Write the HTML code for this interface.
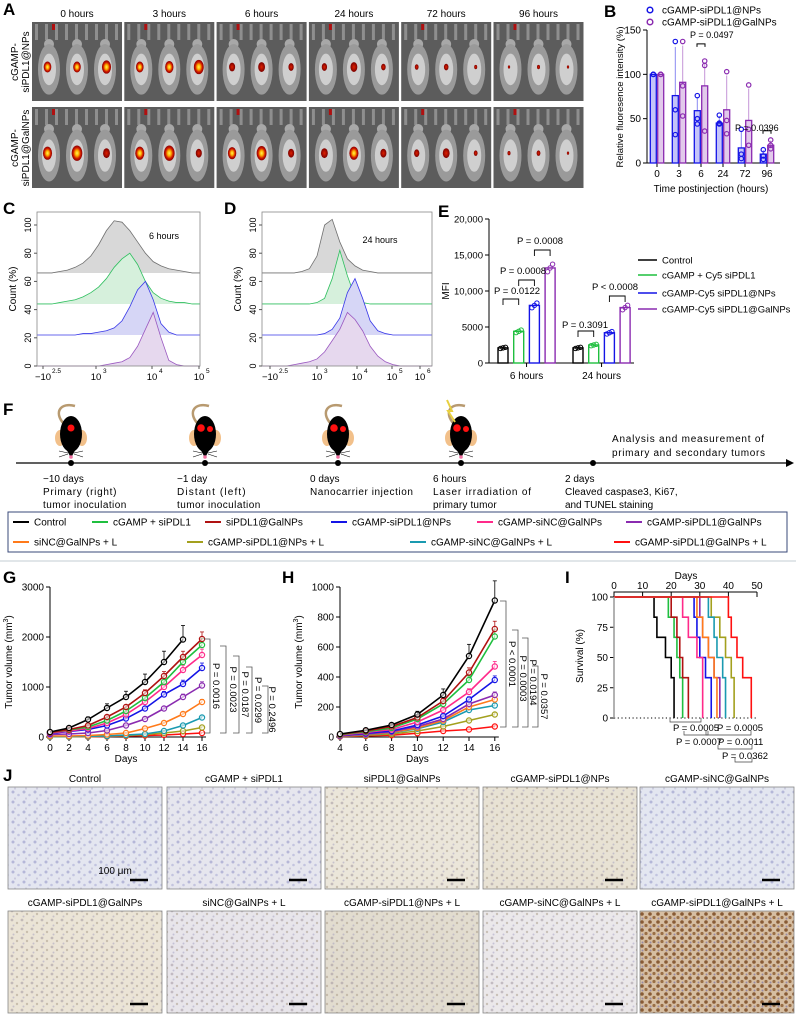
<!DOCTYPE html>
<html><head><meta charset="utf-8"><style>
html,body{margin:0;padding:0;background:#fff;}
svg{display:block;font-family:"Liberation Sans",Arial,sans-serif;}
</style></head>
<body>
<svg id="fig" width="796" height="1018" viewBox="0 0 796 1018" xmlns="http://www.w3.org/2000/svg">
<defs>
<pattern id="cellsBlue" width="11" height="10" patternUnits="userSpaceOnUse">
<circle cx="2" cy="2" r="1.5" fill="#8d8fc4" opacity="0.55"/><circle cx="7.5" cy="5" r="1.3" fill="#9a9ccc" opacity="0.45"/><circle cx="4" cy="8.5" r="1.1" fill="#a6a0c0" opacity="0.4"/></pattern>
<pattern id="cellsTan" width="10" height="9" patternUnits="userSpaceOnUse">
<circle cx="2" cy="2" r="1.4" fill="#9c8f9a" opacity="0.5"/><circle cx="7" cy="5" r="1.2" fill="#a89884" opacity="0.5"/><circle cx="3.5" cy="7.5" r="1" fill="#8e8cb8" opacity="0.4"/></pattern>
<pattern id="cellsBrown" width="8" height="8" patternUnits="userSpaceOnUse">
<circle cx="2" cy="2" r="1.8" fill="#7a4a22" opacity="0.85"/><circle cx="6" cy="5.5" r="1.6" fill="#8a5a2e" opacity="0.8"/><circle cx="2.5" cy="6.5" r="1" fill="#6f6aa8" opacity="0.6"/></pattern>
<radialGradient id="hot"><stop offset="0" stop-color="#fff45a"/><stop offset="0.35" stop-color="#ffb000"/><stop offset="0.7" stop-color="#d01800"/><stop offset="1" stop-color="#8a0000"/></radialGradient>
<radialGradient id="warm"><stop offset="0" stop-color="#e02000"/><stop offset="1" stop-color="#7a0000"/></radialGradient>
</defs>
</svg>
<script>
// ===== DATA =====
const bTimes=["0","3","6","24","72","96"];
const bNPs=[100,76,59,45,17,10];
const bGal=[100,91,87,60,48,20];
const bNPsPts=[[100,100,100],[137,60,32],[76,50,44],[54,44,45],[38,10,5],[15,8,4]];
const bGalPts=[[100,100,100],[137,87,53],[115,110,36],[103,48,33],[88,38,20],[26,20,16]];
const cGray=[0,0,1,2,4,7,12,20,30,37,36,30,22,14,8,5,3,2,1,0,0];
const cGreen=[0,0,1,2,3,5,8,12,18,26,32,36,28,16,8,4,2,1,1,0,0];
const cBlue=[0,0,0,0,0,1,1,2,3,5,10,20,32,38,25,8,2,0,0,0,0];
const cPurple=[0,0,0,0,0,0,0,0,1,2,3,6,14,26,38,20,4,1,0,0,0];
const dGray=[0,0,0,1,3,12,34,38,22,10,5,2,1,0,0,0,0,0,0,0,0];
const dGreen=[0,0,0,0,0,1,4,18,38,20,5,1,0,0,0,0,0,0,0,0,0];
const dBlue=[0,0,0,0,0,0,1,4,12,30,40,26,10,3,1,0,0,0,0,0,0];
const dPurple=[0,0,1,2,3,5,10,18,26,38,33,25,14,7,3,1,0,0,0,0,0];
const eGroups=["6 hours","24 hours"];
const eSeries=["Control","cGAMP + Cy5 siPDL1","cGAMP-Cy5 siPDL1@NPs","cGAMP-Cy5 siPDL1@GalNPs"];
const e6h=[2100,4400,8000,13200];
const e24h=[2100,2500,4200,7700];
const eTicks=[0,5000,10000,15000,20000];
const eTickLabels=["0","5000","10,000","15,000","20,000"];
const groupNames=["Control","cGAMP + siPDL1","siPDL1@GalNPs","cGAMP-siPDL1@NPs","cGAMP-siNC@GalNPs","cGAMP-siPDL1@GalNPs","siNC@GalNPs + L","cGAMP-siPDL1@NPs + L","cGAMP-siNC@GalNPs + L","cGAMP-siPDL1@GalNPs + L"];
const gDays=[0,2,4,6,8,10,12,14,16];
const gControl=[100,180,350,580,800,1100,1500,1950];
const gCgSi=[90,140,200,330,520,780,1100,1500,1840];
const gSiGal=[90,150,230,400,600,880,1220,1600,1960];
const gNPs=[70,110,150,230,370,570,850,1060,1380];
const gSiNC=[80,120,170,280,450,700,1000,1340,1640];
const gGal=[50,60,80,130,230,360,570,800,1030];
const gSiNCL=[20,20,30,50,80,170,280,460,700];
const gNPsL=[5,5,10,15,30,50,80,120,190];
const gCgNCL=[10,10,15,20,40,60,120,230,390];
const gGalL=[5,5,5,10,20,30,40,60,80];
const hDays=[4,6,8,10,12,14,16];
const hControl=[20,45,80,150,280,540,910];
const hCgSi=[15,35,60,120,220,380,670];
const hSiGal=[18,40,70,130,240,430,720];
const hNPs=[10,25,40,80,140,250,380];
const hSiNC=[12,30,50,100,180,300,470];
const hGal=[8,20,35,70,120,220,280];
const hSiNCL=[8,18,30,60,110,200,250];
const hNPsL=[5,12,20,40,70,110,150];
const hCgNCL=[6,15,28,55,100,180,210];
const hGalL=[3,8,12,25,40,50,70];
const iControl=[14,15,18,20,21,21];
const iCgSi=[19,21,22,23,24,24];
const iSiGal=[20,22,23,24,26,26];
const iNPs=[28,29,30,32,34,34];
const iSiNC=[24,26,29,31,31,31];
const iGal=[30,31,33,35,37,37];
const iSiNCL=[29,31,33,35,36,36];
const iNPsL=[34,37,39,41,42,42];
const iCgNCL=[33,35,36,38,39,39];
const iGalL=[40,41,43,45,48,48];

const COLORS=["#000000","#1fbf3f","#b01212","#1414e6","#ff2a8a","#8a2bb0","#ff7a1a","#a3a01e","#1a9ab0","#ff1010"];

// ===== HELPERS =====
const NS='http://www.w3.org/2000/svg';
const svg=document.getElementById('fig');
function mk(tag,a,parent){const e=document.createElementNS(NS,tag);for(const k in a)e.setAttribute(k,a[k]);(parent||svg).appendChild(e);return e;}
function txt(x,y,s,size,anchor,parent,extra){const e=mk('text',Object.assign({x:x,y:y,'font-size':size,'text-anchor':anchor||'start',fill:'#000'},extra||{}),parent);e.textContent=s;return e;}
function grp(parent){return mk('g',{},parent);}

// ===== PANEL A =====
const gA=grp();


let t=txt(3,15,'A',17,'start',gA,{'font-weight':'bold'});


const aHours=["0 hours","3 hours","6 hours","24 hours","72 hours","96 hours"];
const spotsTop=[[1,1,1.2],[1,1.1,1.3],[0.8,0.9,0.7],[0.7,0.9,0.6],[0.5,0.6,0.4],[0.3,0.4,0.3]];
const spotsBot=[[1.2,1.4,0.9],[1.2,1.4,0.8],[1.1,1.3,0.8],[0.9,1.2,0.8],[0.7,0.9,0.5],[0.4,0.5,0.3]];
for(let c=0;c<6;c++){
  const x=32+c*92.3;
  t=txt(x+45,17,aHours[c],10,'middle',gA);
  
  
  for(let r=0;r<2;r++){
    const y=r?107:22, h=r?81:79;
    const tile=grp(gA);
    
    
    mk('rect',{x:x,y:y,width:90,height:h,fill:'#5c5c5c'},tile);
    for(let k=0;k<9;k++) mk('rect',{x:x+3+k*10,y:y+2,width:3,height:16,fill:'#8e8e8e'},tile);
    const sp=r?spotsBot[c]:spotsTop[c];
    for(let m=0;m<3;m++){
      const cx=x+17+m*28;
      mk('ellipse',{cx:cx,cy:y+22,rx:5,ry:5,fill:'#a8a8a8'},tile);
      mk('ellipse',{cx:cx,cy:y+h*0.6,rx:11,ry:h*0.32,fill:'#9a9a9a'},tile);
      mk('ellipse',{cx:cx,cy:y+h*0.6,rx:7,ry:h*0.2,fill:'#cfcfcf'},tile);
      const s=sp[m];
      mk('ellipse',{cx:cx+(m-1)*1.5,cy:y+h*0.57,rx:3.8*s,ry:5.5*s,fill:(s>0.95?'url(#hot)':'url(#warm)')},tile);
    }
    mk('rect',{x:x+20,y:y+2,width:3,height:6,fill:'#b01010'},tile);
  }
}
t=txt(0,0,'cGAMP-',10,'middle',gA,{transform:'translate(18,62) rotate(-90)'});


t=txt(0,0,'siPDL1@NPs',10,'middle',gA,{transform:'translate(29,62) rotate(-90)'});


t=txt(0,0,'cGAMP-',10,'middle',gA,{transform:'translate(18,148) rotate(-90)'});


t=txt(0,0,'siPDL1@GalNPs',10,'middle',gA,{transform:'translate(29,148) rotate(-90)'});



// ===== PANEL B =====
const gB=grp();


t=txt(604,17,'B',17,'start',gB,{'font-weight':'bold'});


const bY=v=>163-v/150*133;
const bX=i=>657+i*22;
let ax=mk('path',{d:'M647,30 V163 H780',fill:'none',stroke:'#000','stroke-width':1},gB);


[0,50,100,150].forEach(v=>{
  mk('line',{x1:643,x2:647,y1:bY(v),y2:bY(v),stroke:'#000'},gB);
  const l=txt(641,bY(v)+3.5,String(v),10,'end',gB);
  
  
});
bTimes.forEach((s,i)=>{
  mk('line',{x1:bX(i),x2:bX(i),y1:163,y2:167,stroke:'#000'},gB);
  const l=txt(bX(i),177,s,10,'middle',gB);
  
  
  [[bNPs,bNPsPts,'#1414e6',-3.7],[bGal,bGalPts,'#8a2bb0',3.7]].forEach(([vals,pts,col,off])=>{
    const v=vals[i];
    const b=mk('rect',{x:bX(i)+off-3,y:bY(v),width:6,height:163-bY(v),fill:col,'fill-opacity':0.25,stroke:col,'stroke-width':1.3},gB);
    
    
    const mx=Math.max(...pts[i]);
    mk('line',{x1:bX(i)+off,x2:bX(i)+off,y1:bY(v),y2:bY(Math.min(150,v+(mx-v)*0.9)),stroke:col,'stroke-opacity':0.5},gB);
    pts[i].forEach(p=>{
      const c=mk('circle',{cx:bX(i)+off,cy:bY(p),r:2.2,fill:'none',stroke:col,'stroke-width':1.2},gB);
      
      
    });
  });
});
t=txt(0,0,'Relative fluoresence intensity (%)',9.5,'middle',gB,{transform:'translate(623,97) rotate(-90)'});


t=txt(711,192,'Time postinjection (hours)',10,'middle',gB);


[['cGAMP-siPDL1@NPs','#1414e6',10],['cGAMP-siPDL1@GalNPs','#8a2bb0',22]].forEach(([s,c,y])=>{
  const e=mk('circle',{cx:650,cy:y,r:2.8,fill:'none',stroke:c,'stroke-width':1.5},gB);
  
  
  const l=txt(662,y+3.5,s,10,'start',gB);
  
  
});
mk('path',{d:`M${bX(2)-4},${bY(131)} v-3 h8 v3`,fill:'none',stroke:'#000'},gB);
t=txt(690,38,'P = 0.0497',9,'start',gB);


mk('path',{d:`M${bX(5)-4},${bY(33)} v-3 h8 v3`,fill:'none',stroke:'#000'},gB);
t=txt(735,131,'P = 0.0396',9,'start',gB);



// ===== PANELS C, D =====
function hist(panel,left,right,xOf,sets,ticks,tlabels,sup,label,lx,ly,letter,letterX){
  const g=grp();
  
  
  const L=txt(letterX,214,letter,17,'start',g,{'font-weight':'bold'});
  
  
  const yOf=v=>366-v*1.41;
  const bases=[66,44,22,0];
  const cols=['#707070','#2fbf5f','#3838e8','#9a58c0'];
  const fills=['#d8d8d8','#d6f0dc','#d6d6f6','#e6d8ee'];
  sets.forEach((arr,si)=>{
    let d=`M${left},${yOf(bases[si])}`;
    arr.forEach((v,i)=>{d+=` L${xOf(i)},${yOf(bases[si]+v)}`;});
    d+=` L${right},${yOf(bases[si])}`;
    const f=mk('path',{d:d+' Z',fill:fills[si],stroke:'none'},g);
    
    
    const ln=mk('path',{d:d,fill:'none',stroke:cols[si],'stroke-width':0.8},g);
    
    
  });
  const box=mk('rect',{x:left,y:212,width:right-left,height:154,fill:'none',stroke:'#888','stroke-width':0.8},g);
  
  
  [0,20,40,60,80,100].forEach(v=>{
    mk('line',{x1:left-3,x2:left,y1:yOf(v),y2:yOf(v),stroke:'#555'},g);
    const l=txt(0,0,String(v),9,'middle',g,{transform:`translate(${left-6},${yOf(v)}) rotate(-90)`});
    
    
  });
  ticks.forEach((x,i)=>{
    mk('line',{x1:x,x2:x,y1:366,y2:369,stroke:'#555'},g);
    const l=txt(x,380,tlabels[i],9.5,'middle',g);
    
    
    const s=txt(x+(i===0?9:7),373,sup[i],6.5,'start',g);
    
    
  });
  const yl=txt(0,0,'Count  (%)',10,'middle',g,{transform:`translate(${left-21},289) rotate(-90)`});
  
  
  const lb=txt(lx,ly,label,9,'middle',g);
  
  
}
hist('c',37,200,i=>96+(2.0+i*0.15-3)*52,[cGray,cGreen,cBlue,cPurple],[43,96,152,199],['\u221210','10','10','10'],['2.5','3','4','5'],'6 hours',164,239,'C',3);
hist('d',262,432,i=>317+(2.0+i*0.2-3)*38,[dGray,dGreen,dBlue,dPurple],[270,317,357,392,420],['\u221210','10','10','10','10'],['2.5','3','4','5','6'],'24 hours',380,243,'D',224);

// ===== PANEL E =====
const gE=grp();


t=txt(438,217,'E',17,'start',gE,{'font-weight':'bold'});


const eY=v=>363-v/20000*144;
const eX=(g,s)=>[503,578][g]+s*15.7;
ax=mk('path',{d:'M489,219 V363 H634',fill:'none',stroke:'#000'},gE);


eTicks.forEach((v,i)=>{
  mk('line',{x1:485,x2:489,y1:eY(v),y2:eY(v),stroke:'#000'},gE);
  const l=txt(483,eY(v)+3.5,eTickLabels[i],9.5,'end',gE);
  
  
});
t=txt(0,0,'MFI',10,'middle',gE,{transform:'translate(449,291) rotate(-90)'});


const eColors=['#000','#1fbf3f','#1414e6','#8a2bb0'];
[e6h,e24h].forEach((vals,g)=>{
  const l=txt((eX(g,0)+eX(g,3))/2,379,eGroups[g],10,'middle',gE);
  
  
  mk('line',{x1:(eX(g,1)+eX(g,2))/2,x2:(eX(g,1)+eX(g,2))/2,y1:363,y2:367,stroke:'#000'},gE);
  vals.forEach((v,s)=>{
    const b=mk('rect',{x:eX(g,s)-5,y:eY(v),width:10,height:363-eY(v),fill:'none',stroke:eColors[s],'stroke-width':1.4},gE);
    
    
    [-2.5,0,2.5].forEach((o,k)=>{
      const c=mk('circle',{cx:eX(g,s)+o,cy:eY(v*(1+(k-1)*0.04)),r:2.2,fill:'none',stroke:eColors[s],'stroke-width':1},gE);
      
      
    });
  });
});
[[0,0,1,299,'P = 0.0122',494,296],[0,1,2,280,'P = 0.0008',500,276],[0,2,3,250,'P = 0.0008',517,246],[1,0,1,331,'P = 0.3091',562,330],[1,2,3,296,'P < 0.0008',592,292]].forEach(([g,a,b,y,s,x,ty])=>{
  const br=mk('path',{d:`M${eX(g,a)},${y+6} v-6 H${eX(g,b)} v6`,fill:'none',stroke:'#000','stroke-width':0.9},gE);
  
  
  const l=txt(x,ty-2,s,9.5,'start',gE);
  
  
});
eSeries.forEach((s,i)=>{
  const y=[260,275,293,309][i];
  const ln=mk('line',{x1:638,x2:657,y1:y,y2:y,stroke:eColors[i],'stroke-width':1.5},gE);
  
  
  const l=txt(662,y+3.5,s,9.5,'start',gE);
  
  
});

// ===== PANEL F =====
const gF=grp();


t=txt(3,415,'F',17,'start',gF,{'font-weight':'bold'});


ax=mk('line',{x1:16,x2:786,y1:463,y2:463,stroke:'#000','stroke-width':1.2},gF);


mk('path',{d:'M786,459 L794,463 L786,467 Z',fill:'#000'},gF);
const fX=[71,205,338,461,593];
const fTumors=[1,2,2,2];
const fLabels=[['\u221210 days','Primary (right)','tumor inoculation'],['\u22121 day','Distant (left)','tumor inoculation'],['0 days','Nanocarrier injection'],['6 hours','Laser irradiation of','primary tumor'],['2 days','Cleaved caspase3, Ki67,','and TUNEL staining']];
fX.forEach((x,i)=>{
  const d=mk('circle',{cx:x,cy:463,r:3,fill:'#000'},gF);
  
  
  fLabels[i].forEach((s,k)=>{
    const l=txt(x-28,482+k*13,s,10,'start',gF,{textLength:s.length>12?s.length*4.9:undefined});
    if(!(s.length>12)) l.removeAttribute('textLength');
    
    
  });
  if(i<4){
    const m=grp(gF);
    
    
    mk('path',{d:`M${x-7},${424} C${x-18},${412} ${x-10},${402} ${x+4},${406}`,fill:'none',stroke:'#b89a70','stroke-width':2.5},m);
    mk('ellipse',{cx:x-11,cy:438,rx:5,ry:8,fill:'#f2c08a'},m);
    mk('ellipse',{cx:x+11,cy:438,rx:5,ry:8,fill:'#f2c08a'},m);
    mk('ellipse',{cx:x,cy:434,rx:11,ry:18,fill:'#000'},m);
    mk('path',{d:`M${x-8},443 L${x},458 L${x+8},443 Z`,fill:'#000'},m);
    mk('circle',{cx:x,cy:457,r:1.8,fill:'#f06fa0'},m);
    mk('path',{d:`M${x-3},453 l-9,-2 M${x-3},454 l-9,3 M${x+3},453 l9,-2 M${x+3},454 l9,3`,stroke:'#000','stroke-width':0.6},m);
    if(fTumors[i]===1) mk('circle',{cx:x,cy:428,r:3.5,fill:'#ff1010'},m);
    else {mk('circle',{cx:x-4,cy:428,r:3.8,fill:'#ff1010'},m);mk('circle',{cx:x+5,cy:429,r:3,fill:'#ff1010'},m);}
  }
});
mk('path',{d:'M447,400 L452,411 L448,411 L455,422',fill:'none',stroke:'#e8d040','stroke-width':2},gF);
t=txt(612,442,'Analysis and measurement of',10,'start',gF,{textLength:152});


t=txt(612,456,'primary and secondary tumors',10,'start',gF,{textLength:153});


// group legend
const lg=grp();


mk('rect',{x:8,y:512,width:779,height:40,fill:'none',stroke:'#3a4a7a','stroke-width':1},lg);
const lgPos=[[13,522],[92,522],[205,522],[331,522],[477,522],[626,522],[13,542],[187,542],[410,542],[614,542]];
groupNames.forEach((s,i)=>{
  const [x,y]=lgPos[i];
  const ln=mk('line',{x1:x,x2:x+16,y1:y,y2:y,stroke:COLORS[i],'stroke-width':2},lg);
  
  
  const l=txt(x+21,y+3.5,s,10,'start',lg);
  
  
});
mk('line',{x1:0,x2:796,y1:561,y2:561,stroke:'#d7dde2','stroke-width':1.5},svg);

// ===== LINE CHARTS G, H =====
function lineChart(name,series,days,xOf,yOf,x0,yTicks,xTicks,letter,lx){
  const g=grp();
  
  
  const L=txt(lx,583,letter,17,'start',g,{'font-weight':'bold'});
  
  
  const a=mk('path',{d:`M${x0},587 V737 H${xOf(days[days.length-1])+4}`,fill:'none',stroke:'#000'},g);
  
  
  yTicks.forEach(v=>{
    mk('line',{x1:x0-4,x2:x0,y1:yOf(v),y2:yOf(v),stroke:'#000'},g);
    const l=txt(x0-6,yOf(v)+3.5,String(v),10,'end',g);
    
    
  });
  xTicks.forEach(d=>{
    mk('line',{x1:xOf(d),x2:xOf(d),y1:737,y2:741,stroke:'#000'},g);
    const l=txt(xOf(d),751,String(d),10,'middle',g);
    
    
  });
  const order=[9,7,8,6,5,3,4,1,2,0];
  order.forEach(si=>{
    const vals=series[si];
    let d='';
    vals.forEach((v,i)=>{d+=(i?' L':'M')+xOf(days[i])+','+yOf(v);});
    vals.forEach((v,i)=>{
      if(i>1){const e=v*0.12*(si===0?1.2:0.6);mk('line',{x1:xOf(days[i]),x2:xOf(days[i]),y1:yOf(v),y2:yOf(v+e),stroke:COLORS[si],'stroke-width':0.8},g);
      mk('line',{x1:xOf(days[i])-2,x2:xOf(days[i])+2,y1:yOf(v+e),y2:yOf(v+e),stroke:COLORS[si],'stroke-width':0.8},g);}
    });
    const p=mk('path',{d:d,fill:'none',stroke:COLORS[si],'stroke-width':1.6},g);
    
    
    vals.forEach((v,i)=>{
      const c=mk('circle',{cx:xOf(days[i]),cy:yOf(v),r:2.6,fill:'#fff','fill-opacity':0.6,stroke:COLORS[si],'stroke-width':1.2},g);
      
      
    });
  });
  const xt=txt((x0+xOf(days[days.length-1]))/2,762,'Days',10,'middle',g);
  
  
  const yt=mk('text',{transform:`translate(${x0-38},662) rotate(-90)`,'font-size':10,'text-anchor':'middle'},g);
  yt.innerHTML='Tumor volume (mm<tspan font-size="7" dy="-4">3</tspan><tspan dy="4">)</tspan>';
  
  
  return g;
}
const gX=d=>50+d*9.5, gYs=v=>737-v*0.05;
const gG=lineChart('g',[gControl,gCgSi,gSiGal,gNPs,gSiNC,gGal,gSiNCL,gNPsL,gCgNCL,gGalL],gDays,gX,gYs,50,[0,1000,2000,3000],gDays,'G',3);
[[204,639,'P = 0.0016',216],[220,646,'P = 0.0023',233],[233,656,'P = 0.0187',245],[246,667,'P = 0.0299',258],[262,686,'P = 0.2496',272]].forEach(([x,y,s,tx])=>{
  const b=mk('path',{d:`M${x},${y} h6 V733 h-6`,fill:'none',stroke:'#555','stroke-width':0.8},gG);
  
  
  const l=txt(0,0,s,9.5,'middle',gG,{transform:`translate(${tx-3},${(y+733)/2}) rotate(90)`});
  
  
});
const hX=d=>340+(d-4)*12.9, hYs=v=>737-v*0.15;
const gH=lineChart('h',[hControl,hCgSi,hSiGal,hNPs,hSiNC,hGal,hSiNCL,hNPsL,hCgNCL,hGalL],hDays,hX,hYs,340,[0,200,400,600,800,1000],hDays,'H',282);
[[500,601,'P < 0.0001',512],[512,630,'P = 0.0003',523],[522,638,'P = 0.0194',533],[532,666,'P = 0.0357',544]].forEach(([x,y,s,tx])=>{
  const b=mk('path',{d:`M${x},${y} h6 V727 h-6`,fill:'none',stroke:'#555','stroke-width':0.8},gH);
  
  
  const l=txt(0,0,s,9.5,'middle',gH,{transform:`translate(${tx-3},${(y+727)/2}) rotate(90)`});
  
  
});

// ===== PANEL I =====
const gI=grp();


t=txt(565,583,'I',17,'start',gI,{'font-weight':'bold'});


const iX=d=>614+d*2.86, iY=s=>718-s*1.21;
ax=mk('path',{d:'M614,718 V592 H757',fill:'none',stroke:'#000'},gI);


mk('line',{x1:614,x2:757,y1:718,y2:718,stroke:'#000','stroke-dasharray':'1.2,2.5'},gI);
[0,10,20,30,40,50].forEach(d=>{
  mk('line',{x1:iX(d),x2:iX(d),y1:592,y2:597,stroke:'#000'},gI);
  const l=txt(iX(d),589,String(d),10,'middle',gI);
  
  
});
[0,25,50,75,100].forEach(v=>{
  mk('line',{x1:610,x2:614,y1:iY(v),y2:iY(v),stroke:'#000'},gI);
  const l=txt(608,iY(v)+3.5,String(v),10,'end',gI);
  
  
});
t=txt(686,579,'Days',10,'middle',gI);


t=txt(0,0,'Survival (%)',10,'middle',gI,{transform:'translate(583,656) rotate(-90)'});


[iControl,iCgSi,iSiGal,iNPs,iSiNC,iGal,iSiNCL,iNPsL,iCgNCL,iGalL].forEach((deaths,si)=>{
  const sorted=deaths.slice().sort((a,b)=>a-b);
  let s=100,d=`M${iX(0)},${iY(100)}`;
  const n=sorted.length;
  let i=0;
  while(i<n){const day=sorted[i];let k=0;while(i<n&&sorted[i]===day){i++;k++;}d+=` H${iX(day)}`;s-=k/n*100;d+=` V${iY(s)}`;}
  const p=mk('path',{d:d,fill:'none',stroke:COLORS[si],'stroke-width':1.6},gI);
  
  
});
mk('path',{d:'M614,597 V718',stroke:'#999','stroke-width':1.5,fill:'none'},gI);
[[673,731,'P = 0.0005'],[717,731,'P = 0.0005'],[676,745,'P = 0.0007'],[718,745,'P = 0.0011'],[722,759,'P = 0.0362']].forEach(([x,y,s])=>{
  const l=txt(x,y,s,9.5,'start',gI);
  
  
});
[[670,701,722],[684,708,735],[706,751,735],[718,752,749],[735,752,762]].forEach(([a,b,y])=>{
  const br=mk('path',{d:`M${a},${y-4} V${y} H${b} V${y-4}`,fill:'none',stroke:'#444','stroke-width':0.7},gI);
  
  
});

// ===== PANEL J =====
const gJ=grp();


t=txt(3,781,'J',17,'start',gJ,{'font-weight':'bold'});


const jX=[8,167,325,483,640];
const jBase=['#e4e6f0','#e6e6ee','#ebe6da','#e8e2d4','#e3e6f0','#ebe4d6','#e8e5ea','#e2dccf','#ebe8ea','#d6bea2'];
const jPat=['cellsBlue','cellsBlue','cellsTan','cellsTan','cellsBlue','cellsTan','cellsTan','cellsTan','cellsTan','cellsBrown'];
groupNames.forEach((s,i)=>{
  const r=Math.floor(i/5), c=i%5;
  const x=jX[c], y=r?911:787;
  const tg=grp(gJ);
  
  
  const l=txt(x+77,r?906:782,s,10,'middle',tg);
  
  
  mk('rect',{x:x,y:y,width:154,height:102,fill:jBase[i]},tg);
  mk('rect',{x:x,y:y,width:154,height:102,fill:`url(#${jPat[i]})`},tg);
  mk('rect',{x:x,y:y,width:154,height:102,fill:'none',stroke:'#888','stroke-width':0.8},tg);
  const sb=mk('line',{x1:x+122,x2:x+140,y1:y+93,y2:y+93,stroke:'#000','stroke-width':2.5},tg);
  
  
});
t=txt(115,874,'100 \u03bcm',10,'middle',gJ);


</script>
</body></html>
